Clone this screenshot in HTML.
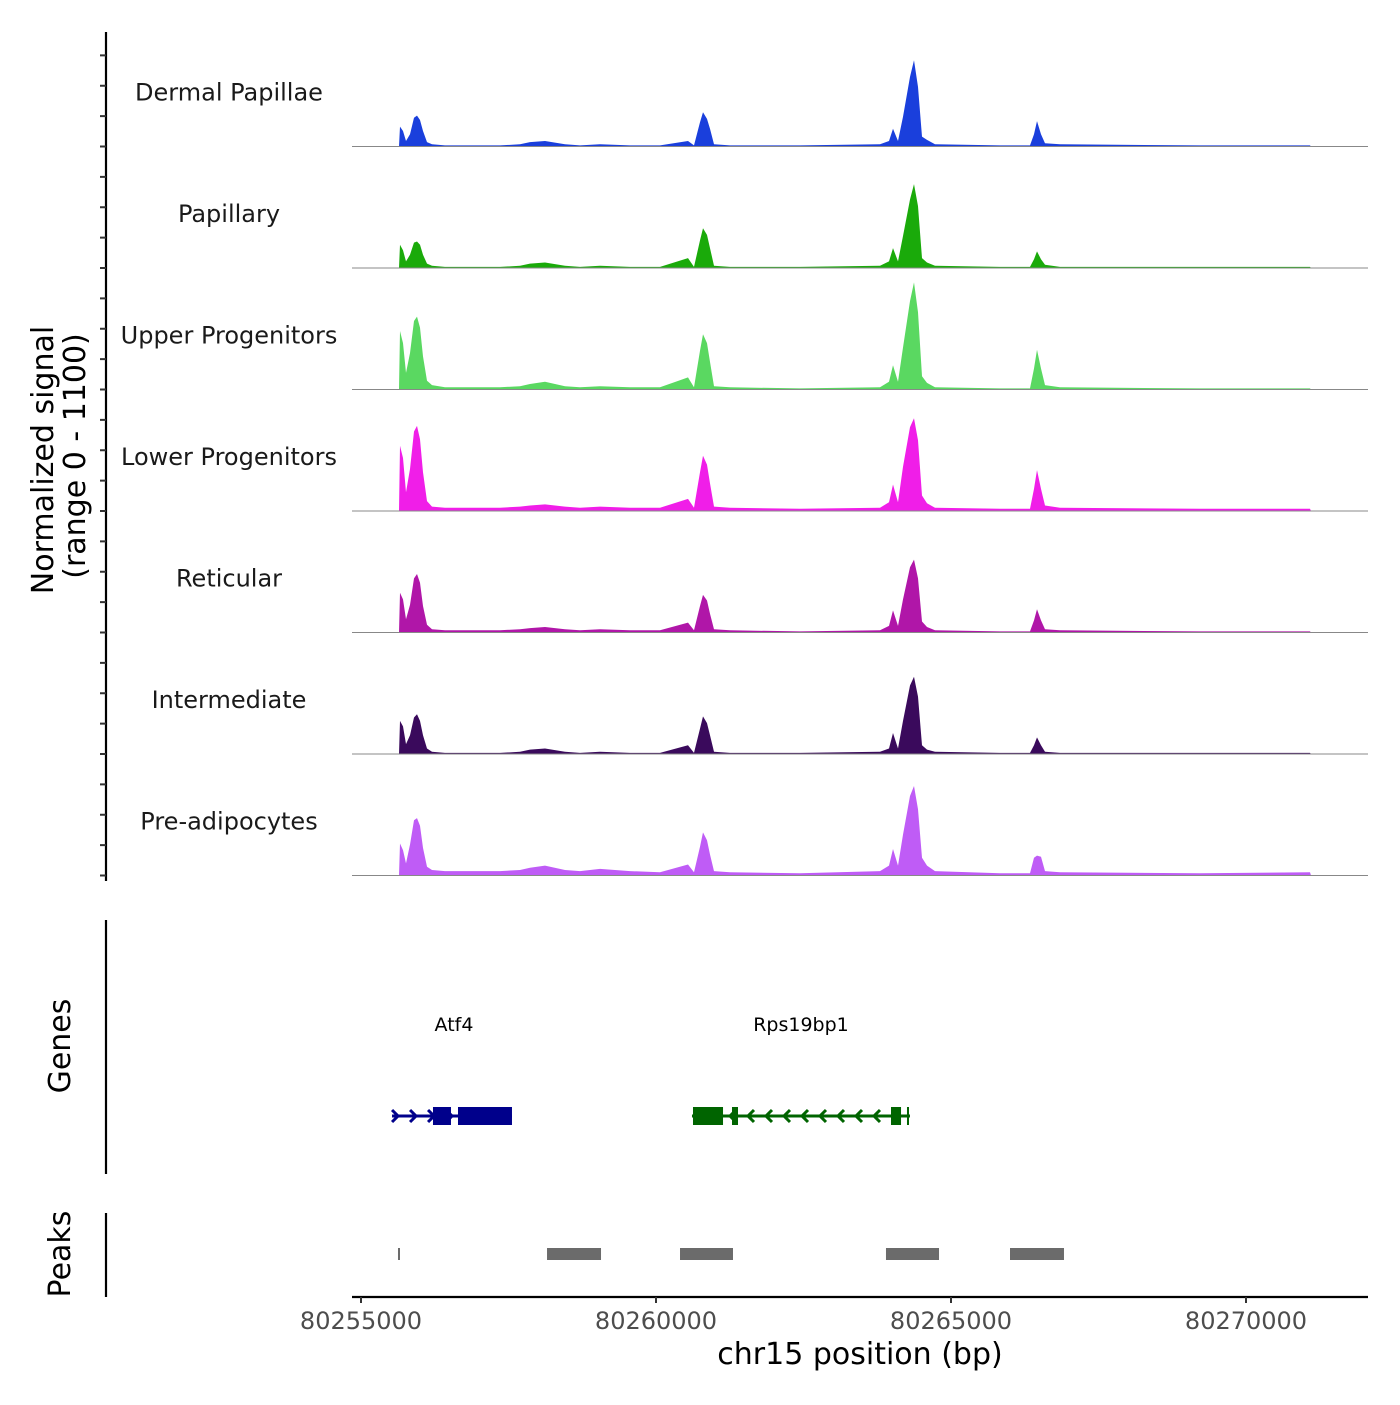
<!DOCTYPE html>
<html><head><meta charset="utf-8"><style>
html,body{margin:0;padding:0;background:#fff;}
svg text{font-family:"DejaVu Sans","Liberation Sans",sans-serif;}
</style></head><body>
<svg id="chart" width="1400" height="1400" xmlns="http://www.w3.org/2000/svg">
<g id="tracks"></g>
<g id="genes"></g>
<g id="peaks"></g>
<g id="axes"></g>
</svg>
<script>
const trackNames = ["Dermal Papillae","Papillary","Upper Progenitors","Lower Progenitors","Reticular","Intermediate","Pre-adipocytes"];
const trackColors = ["#1a3fdc","#1aaa0a","#5ad861","#f01ee8","#b016a8","#3a0a5c","#bf5cf6"];
const positions = [80255644,80255661,80255712,80255763,80255831,80255898,80255949,80256000,80256051,80256119,80256203,80256424,80256847,80257356,80257695,80257864,80258119,80258458,80258712,80259051,80259559,80260068,80260542,80260644,80260746,80260797,80260864,80260915,80260983,80261254,80262441,80263797,80263949,80264017,80264102,80264186,80264305,80264373,80264441,80264508,80264593,80264729,80265830,80266339,80266407,80266458,80266525,80266593,80266847,80269220,80271085,80271102];
const sigDermal = [0,180,140,50,110,260,280,240,140,40,20,10,10,10,20,40,50,20,10,20,10,10,50,10,220,310,250,160,20,10,10,20,50,160,50,270,630,780,540,90,60,20,10,10,110,230,110,30,20,10,10,0];
const sigPapillary = [0,210,160,60,120,230,240,210,120,40,20,10,10,10,20,40,50,20,10,20,10,10,90,10,250,360,300,180,20,10,10,20,60,180,60,290,620,760,560,90,50,20,10,10,80,150,80,30,10,10,10,0];
const sigUpper = [0,530,420,150,330,620,660,560,300,80,40,20,20,20,30,50,70,30,20,30,20,20,110,20,350,500,420,250,30,20,10,20,70,220,70,380,800,970,700,120,60,20,10,10,190,360,190,40,20,10,10,0];
const sigLower = [0,590,480,170,380,720,770,650,350,90,40,30,30,30,40,50,60,40,30,40,30,30,110,30,350,500,420,250,40,30,20,30,80,240,80,400,760,840,640,140,70,30,20,20,200,370,200,50,30,20,20,0];
const sigReticular = [0,360,300,120,250,490,530,450,240,70,30,20,20,20,30,40,50,30,20,30,20,20,90,20,240,340,290,170,30,20,10,20,60,200,60,300,590,660,490,100,50,20,10,10,110,210,110,30,20,10,10,0];
const sigIntermediate = [0,300,250,90,170,330,360,300,170,50,20,10,10,10,20,40,50,20,10,20,10,10,80,10,230,340,280,170,20,10,10,20,50,190,50,300,620,700,520,80,40,20,10,10,80,150,80,20,10,10,10,0];
const sigPreadipo = [0,290,230,110,280,500,520,450,250,80,50,40,40,40,50,70,90,50,40,60,40,30,100,30,260,390,320,190,40,30,20,40,90,240,90,370,720,810,600,160,90,40,20,20,160,180,170,40,30,20,30,0];
const xTicks = [80255000,80260000,80265000,80270000];
const geneNames = ["Atf4","Rps19bp1"];
const geneStart = [80255526,80260610];
const geneEnd = [80257559,80264305];
const geneStrand = [1,-1];
const geneColors = ["#00008b","#006400"];
const exonGene = [0,0,1,1,1,1];
const exonStart = [80256220,80256644,80260627,80261288,80263983,80264254];
const exonEnd = [80256525,80257559,80261136,80261390,80264153,80264288];
const peakStart = [80255627,80258153,80260407,80263898,80266000];
const peakEnd = [80255661,80259068,80261305,80264797,80266915];

const signals=[sigDermal,sigPapillary,sigUpper,sigLower,sigReticular,sigIntermediate,sigPreadipo];
const NS="http://www.w3.org/2000/svg";
const X0=352,X1=1368,PX=0.059,BP0=80255000,PX0=361;
function xs(bp){return PX0+(bp-BP0)*PX;}
const TOP=25,TH=121.5,YMAX=1100;
function ys(v,i){const base=TOP+TH*(i+1);return base-v/YMAX*TH;}
function mk(tag,attrs,parent){const e=document.createElementNS(NS,tag);for(const k in attrs)e.setAttribute(k,attrs[k]);parent.appendChild(e);return e;}
const gT=document.getElementById('tracks');
signals.forEach((s,i)=>{
  const base=TOP+TH*(i+1);
  let d='M'+xs(positions[0])+','+base;
  s.forEach((v,j)=>{d+=' L'+xs(positions[j]).toFixed(1)+','+ys(v,i).toFixed(1);});
  d+=' L'+xs(positions[positions.length-1])+','+base+'Z';
  const ar=mk('path',{d:d,fill:trackColors[i]},gT);
  
  
  const bl=mk('line',{x1:X0,x2:X1,y1:base,y2:base,stroke:'#888','stroke-width':1},gT);
  
  
  const t=mk('text',{x:229,y:base-46,'text-anchor':'middle','font-size':24,fill:'#1a1a1a'},gT);
  t.textContent=trackNames[i];
  
  
});
const gG=document.getElementById('genes');
const GY=1116;
geneNames.forEach((n,i)=>{
  const c=geneColors[i];
  const ln=mk('line',{x1:xs(geneStart[i]),x2:xs(geneEnd[i]),y1:GY,y2:GY,stroke:c,'stroke-width':3},gG);
  
  
  const a=xs(geneStart[i]),b=xs(geneEnd[i]);
  for(let x=a+4;x<b-6;x+=18){
    const dir=geneStrand[i];
    const ar=mk('path',{d:dir>0?`M${x-4},${GY-6} L${x+2},${GY} L${x-4},${GY+6}`:`M${x+4},${GY-6} L${x-2},${GY} L${x+4},${GY+6}`,stroke:c,'stroke-width':3,fill:'none'},gG);
    
    
  }
  const t=mk('text',{x:(i==0?454:801),y:1031,'text-anchor':'middle','font-size':19,fill:'#000'},gG);
  t.textContent=n;
  
  
});
exonStart.forEach((s,k)=>{
  const r=mk('rect',{x:xs(s),y:GY-9,width:Math.max(2,xs(exonEnd[k])-xs(s)),height:18,fill:geneColors[exonGene[k]]},gG);
  
  
});
const gP=document.getElementById('peaks');
peakStart.forEach((s,k)=>{
  const r=mk('rect',{x:xs(s),y:1248,width:Math.max(2,xs(peakEnd[k])-xs(s)),height:12,fill:'#6b6b6b'},gP);
  
  
});
const gA=document.getElementById('axes');
const yl=mk('line',{x1:106,x2:106,y1:32,y2:881,stroke:'#000','stroke-width':2.2},gA);


for(let k=-3;k<=24;k++){const y=TOP+TH+k*TH/4;if(y<50||y>880)continue;
  const tk=mk('line',{x1:100,x2:106,y1:y,y2:y,stroke:'#333','stroke-width':2},gA);
  
  }
const l2=mk('line',{x1:106,x2:106,y1:920,y2:1174,stroke:'#000','stroke-width':2.2},gA);


const l3=mk('line',{x1:106,x2:106,y1:1213,y2:1297,stroke:'#000','stroke-width':2.2},gA);


const xl=mk('line',{x1:X0,x2:X1,y1:1297,y2:1297,stroke:'#000','stroke-width':2.2},gA);


xTicks.forEach(v=>{
  const x=xs(v);
  const tk=mk('line',{x1:x,x2:x,y1:1297,y2:1303,stroke:'#333','stroke-width':2},gA);
  
  
  const t=mk('text',{x:x,y:1329,'text-anchor':'middle','font-size':24,fill:'#4d4d4d'},gA);
  t.textContent=v;
  
  
});
function label(txt,x,y,rot,size,name){
  const t=mk('text',{x:x,y:y,'text-anchor':'middle','font-size':size,fill:'#000',transform:rot?`rotate(-90 ${x} ${y})`:''},gA);
  t.textContent=txt;
  
  
}
label('chr15 position (bp)',860,1364,false,30,'x-axis-title');
label('Normalized signal',53,460,true,30,'y-axis-title');
label('(range 0 - 1100)',85,456,true,30,'y-axis-subtitle');
label('Genes',70,1046,true,30,'genes-axis-title');
label('Peaks',70,1254,true,30,'peaks-axis-title');
</script>
</body></html>
